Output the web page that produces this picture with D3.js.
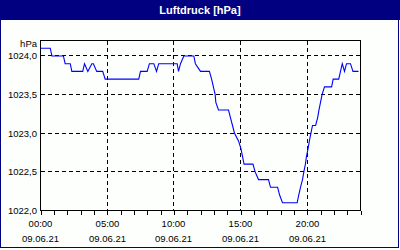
<!DOCTYPE html>
<html><head><meta charset="utf-8">
<script src="https://cdn.jsdelivr.net/npm/d3@7"></script>
<style>
html,body{margin:0;padding:0;background:#fff;}
svg{display:block;}
text{font-family:"Liberation Sans",Arial,sans-serif;}
</style></head>
<body>
<svg id="c" width="400" height="250"></svg>
<script>
const title = "Luftdruck [hPa]";
const unitLabel = "hPa";
const times = ["00:00","00:44","00:51","01:43","01:51","02:14","02:21","03:10","03:18","03:33","03:51","03:58","04:13","04:40","04:51",
"07:22","07:30","08:00","08:10","08:30","08:42","08:52","10:15","10:21","10:30","10:45","11:30","11:37","12:00","12:40","12:50","12:58",
"13:06","13:09","13:21","14:06","14:15","14:24","14:33","14:51","15:02","15:09","15:16","15:56","16:06","16:21","17:06","17:15","17:47",
"17:56","18:09","19:15","19:22","19:30","19:39","19:45","19:52","19:57","20:04","20:10","20:17","20:24","20:38","20:47","20:53","21:00",
"21:07","21:18","21:50","21:57","22:22","22:30","22:38","22:48","22:57","23:15","23:26","23:51"];
const values = [1024.1,1024.1,1024.0,1024.0,1023.9,1023.9,1023.8,1023.8,1023.9,1023.8,1023.9,1023.9,1023.8,1023.8,1023.7,
1023.7,1023.8,1023.8,1023.9,1023.9,1023.8,1023.9,1023.9,1023.8,1023.9,1024.0,1024.0,1023.9,1023.8,1023.8,1023.7,1023.6,
1023.5,1023.4,1023.3,1023.3,1023.2,1023.1,1023.0,1022.9,1022.8,1022.7,1022.6,1022.6,1022.5,1022.4,1022.4,1022.3,1022.3,
1022.2,1022.1,1022.1,1022.2,1022.3,1022.4,1022.5,1022.6,1022.7,1022.8,1022.9,1023.0,1023.1,1023.1,1023.2,1023.3,1023.4,
1023.5,1023.6,1023.6,1023.7,1023.7,1023.8,1023.9,1023.8,1023.9,1023.9,1023.8,1023.8];
const xTickHours = [0,5,10,15,20];
const xTickLabels = ["00:00","05:00","10:00","15:00","20:00"];
const dateLabel = "09.06.21";
const yTicks = [1022.0,1022.5,1023.0,1023.5,1024.0];
const yTickLabels = ["1022,0","1022,5","1023,0","1023,5","1024,0"];

const W=400,H=250;
const L=40,R=360,T=40,B=210;
const svg=d3.select("#c");
const toH = s => { const [h,m]=s.split(":").map(Number); return h+m/60; };
const data = times.map((t,i)=>({t:toH(t), v:values[i]}));

const x=d3.scaleLinear().domain([0,24]).range([L,R]);
const y=d3.scaleLinear().domain([1022,1024.2]).range([B,T]);

// background + frame
svg.append("rect").attr("x",0).attr("y",0).attr("width",W).attr("height",H).attr("fill","#fcfffc");
svg.append("rect").attr("x",0).attr("y",0).attr("width",W).attr("height",20).attr("fill","#000080");
svg.append("rect").attr("x",0.5).attr("y",0.5).attr("width",W-2).attr("height",H-3)
  .attr("fill","none").attr("stroke","#000080").attr("stroke-width",1).attr("shape-rendering","crispEdges");
svg.append("text").attr("x",W/2).attr("y",14).attr("text-anchor","middle")
  .attr("fill","#fff").attr("font-weight","bold").attr("font-size","11px").text(title);

const g=svg.append("g").attr("transform","translate(0.5,0.5)");

// grid
g.append("g").selectAll("line").data(xTickHours.filter(h=>h>0)).join("line")
  .attr("x1",d=>Math.round(x(d))).attr("x2",d=>Math.round(x(d))).attr("y1",T).attr("y2",B)
  .attr("stroke","#000").attr("stroke-dasharray","4,3").attr("shape-rendering","crispEdges");
g.append("g").selectAll("line").data(yTicks.filter(v=>v>1022)).join("line")
  .attr("y1",d=>Math.round(y(d))).attr("y2",d=>Math.round(y(d))).attr("x1",L).attr("x2",R)
  .attr("stroke","#000").attr("stroke-dasharray","4,3").attr("shape-rendering","crispEdges");

// frame of plot
g.append("rect").attr("x",L).attr("y",T).attr("width",R-L).attr("height",B-T)
  .attr("fill","none").attr("stroke","#000").attr("shape-rendering","crispEdges");

// bottom axis with hourly ticks
const xAxis=d3.axisBottom(x).tickValues(d3.range(0,25)).tickSize(4).tickFormat("");
const ax=g.append("g").attr("transform",`translate(0,${B})`).call(xAxis);
ax.select(".domain").remove();
ax.selectAll("line").attr("stroke","#000").attr("shape-rendering","crispEdges");

// x labels
const xl=svg.append("g");
xl.selectAll("text.t").data(xTickHours).join("text").attr("class","t")
  .attr("x",(d)=>Math.round(x(d))+0.5).attr("y",227).attr("text-anchor","middle")
  .attr("font-size","9.5px").attr("fill","#000").text((d,i)=>xTickLabels[i]);
xl.selectAll("text.d").data(xTickHours).join("text").attr("class","d")
  .attr("x",(d)=>Math.round(x(d))+0.5).attr("y",242).attr("text-anchor","middle")
  .attr("font-size","9.5px").attr("fill","#000").text(dateLabel);

// y labels
const yl=svg.append("g");
yl.selectAll("text").data(yTicks).join("text")
  .attr("x",37).attr("y",d=>Math.round(y(d))+4).attr("text-anchor","end")
  .attr("font-size","9.5px").attr("fill","#000").text((d,i)=>yTickLabels[i]);
svg.append("text").attr("x",37).attr("y",47).attr("text-anchor","end")
  .attr("font-size","9.5px").attr("fill","#000").text(unitLabel);

// line
const line=d3.line().x(d=>x(d.t)).y(d=>y(d.v));
g.append("path").datum(data).attr("d",line).attr("fill","none")
  .attr("stroke","#0000ff").attr("stroke-width",1.1);
</script>
</body></html>
